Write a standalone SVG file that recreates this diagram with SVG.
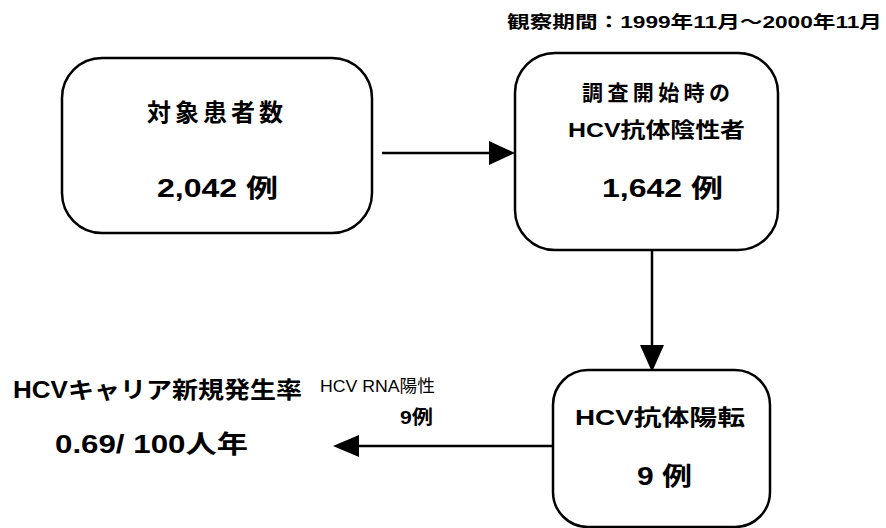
<svg xmlns="http://www.w3.org/2000/svg" width="886" height="528" viewBox="0 0 886 528">
<style>
.box{fill:#fff;stroke:#000;stroke-width:2.5}
.t{font-family:"Liberation Sans","Noto Sans CJK JP",sans-serif;font-weight:bold;fill:#000}
.n{font-weight:normal}
.ln{stroke:#000;stroke-width:2.5;fill:none}
.ah{fill:#000}
</style>
<rect width="886" height="528" fill="#fff"/>
<text class="t" x="507" y="28" font-size="17" textLength="375" lengthAdjust="spacingAndGlyphs">観察期間：1999年11月～2000年11月</text>
<g id="connectors">
<line class="ln" x1="382" y1="153" x2="492" y2="153"/>
<polygon class="ah" points="515,153 489,141 489,165"/>
<line class="ln" x1="652" y1="250" x2="652" y2="348"/>
<polygon class="ah" points="652,372 640,345 664,345"/>
<line class="ln" x1="553" y1="446" x2="356" y2="446"/>
<polygon class="ah" points="333,446 359,435 359,457"/>
<text class="t n" x="320" y="392" font-size="17" textLength="115" lengthAdjust="spacingAndGlyphs">HCV RNA陽性</text>
<text class="t" x="400" y="424" font-size="19" textLength="33" lengthAdjust="spacingAndGlyphs">9例</text>
</g>
<g id="n1">
<rect class="box" x="62" y="58" width="310" height="175" rx="40"/>
<text class="t" x="147" y="121" font-size="24" textLength="136" lengthAdjust="spacing">対象患者数</text>
<text class="t" x="157" y="197" font-size="25" textLength="121" lengthAdjust="spacingAndGlyphs">2,042 例</text>
</g>
<g id="n2">
<rect class="box" x="515" y="53" width="263" height="197" rx="40"/>
<text class="t" x="582" y="100" font-size="21" textLength="148" lengthAdjust="spacing">調査開始時の</text>
<text class="t" x="568" y="137" font-size="21" textLength="177" lengthAdjust="spacingAndGlyphs">HCV抗体陰性者</text>
<text class="t" x="602" y="197" font-size="25" textLength="121" lengthAdjust="spacingAndGlyphs">1,642 例</text>
</g>
<g id="n3">
<rect class="box" x="553" y="370" width="217" height="157" rx="35"/>
<text class="t" x="575" y="425" font-size="22" textLength="170" lengthAdjust="spacingAndGlyphs">HCV抗体陽転</text>
<text class="t" x="637" y="485" font-size="25" textLength="55" lengthAdjust="spacingAndGlyphs">9 例</text>
</g>
<g id="n4">
<text class="t" x="13" y="398" font-size="23" textLength="289" lengthAdjust="spacingAndGlyphs">HCVキャリア新規発生率</text>
<text class="t" x="55" y="453" font-size="25" textLength="193" lengthAdjust="spacingAndGlyphs">0.69/ 100人年</text>
</g>
</svg>
